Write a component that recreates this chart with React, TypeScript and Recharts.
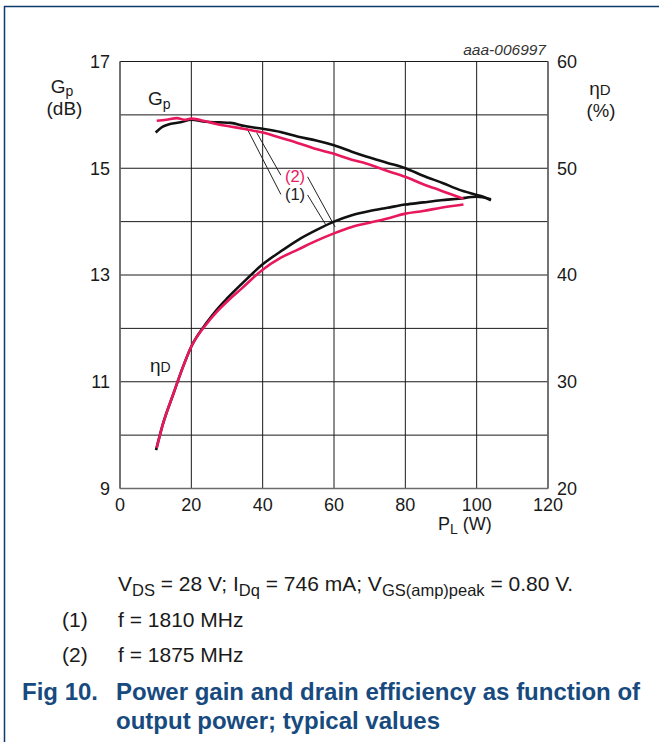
import React from 'react';
import { LineChart, Line, XAxis, YAxis, CartesianGrid, ReferenceLine, ReferenceDot } from 'recharts';

// Power gain Gp (dB) vs PL (W)
const gp1810 = [
  { x: 10, y: 15.67 }, { x: 12, y: 15.78 }, { x: 14, y: 15.83 }, { x: 17, y: 15.86 },
  { x: 20, y: 15.91 }, { x: 24, y: 15.87 }, { x: 28, y: 15.86 }, { x: 31, y: 15.85 },
  { x: 35, y: 15.79 }, { x: 40, y: 15.74 }, { x: 45, y: 15.68 }, { x: 50, y: 15.59 },
  { x: 55, y: 15.52 }, { x: 60, y: 15.43 }, { x: 65, y: 15.31 }, { x: 69, y: 15.22 },
  { x: 75, y: 15.1 }, { x: 80, y: 15.0 }, { x: 85, y: 14.86 }, { x: 90.6, y: 14.72 },
  { x: 95, y: 14.6 }, { x: 100, y: 14.5 }, { x: 102, y: 14.46 }, { x: 104, y: 14.4 },
];
const gp1875 = [
  { x: 10.3, y: 15.89 }, { x: 13, y: 15.91 }, { x: 16, y: 15.94 }, { x: 18, y: 15.91 },
  { x: 20, y: 15.93 }, { x: 24, y: 15.88 }, { x: 27, y: 15.83 }, { x: 32, y: 15.77 },
  { x: 36, y: 15.72 }, { x: 40, y: 15.67 }, { x: 45, y: 15.57 }, { x: 50, y: 15.47 },
  { x: 55, y: 15.36 }, { x: 60, y: 15.27 }, { x: 65, y: 15.16 }, { x: 69, y: 15.09 },
  { x: 75, y: 14.95 }, { x: 80, y: 14.84 }, { x: 85, y: 14.7 }, { x: 88, y: 14.63 },
  { x: 92, y: 14.53 }, { x: 96.3, y: 14.43 },
];
// Drain efficiency ηD (%) vs PL (W)
const eta1810 = [
  { x: 10.1, y: 23.6 }, { x: 12, y: 26.0 }, { x: 15, y: 28.9 }, { x: 17.5, y: 31.25 },
  { x: 20, y: 33.3 }, { x: 24, y: 35.4 }, { x: 27, y: 36.7 }, { x: 30, y: 37.8 },
  { x: 33.6, y: 39.0 }, { x: 40, y: 41.0 }, { x: 45, y: 42.2 }, { x: 50, y: 43.3 },
  { x: 55, y: 44.2 }, { x: 60, y: 45.0 }, { x: 65, y: 45.6 }, { x: 70, y: 46.0 },
  { x: 75, y: 46.3 }, { x: 80, y: 46.6 }, { x: 85, y: 46.8 }, { x: 90, y: 47.0 },
  { x: 95, y: 47.15 }, { x: 100, y: 47.33 }, { x: 104, y: 47.1 },
];
const eta1875 = [
  { x: 10.3, y: 23.8 }, { x: 12, y: 26.0 }, { x: 15, y: 28.9 }, { x: 17.5, y: 31.25 },
  { x: 20, y: 33.3 }, { x: 24, y: 35.3 }, { x: 27, y: 36.5 }, { x: 30, y: 37.5 },
  { x: 34, y: 38.7 }, { x: 40, y: 40.5 }, { x: 45, y: 41.6 }, { x: 50, y: 42.4 },
  { x: 55, y: 43.2 }, { x: 60, y: 43.9 }, { x: 65, y: 44.5 }, { x: 70, y: 44.9 },
  { x: 75, y: 45.3 }, { x: 80, y: 45.75 }, { x: 85, y: 46.0 }, { x: 90, y: 46.3 },
  { x: 96.3, y: 46.6 },
];

const xTicks = [0, 20, 40, 60, 80, 100, 120];
const gpTicks = [9, 10, 11, 12, 13, 14, 15, 16, 17];
const etaTicks = [20, 25, 30, 35, 40, 45, 50, 55, 60];

// leader lines (data coords on Gp axis)
const leaders = [
  { from: { x: 35.5, y: 15.76 }, to: { x: 45.1, y: 14.51 } },
  { from: { x: 38.3, y: 15.67 }, to: { x: 45.1, y: 14.87 } },
  { from: { x: 52.6, y: 14.84 }, to: { x: 60.3, y: 13.9 } },
  { from: { x: 52.6, y: 14.5 }, to: { x: 57.7, y: 13.94 } },
];

const FONT = '"Liberation Sans", Arial, sans-serif';
const BLACK = '#111111';
const PINK = '#e8185c';
const BLUE = '#174a7e';
const TXT = '#1a1a1a';

const tickStyle = { fill: TXT, fontSize: 18, fontFamily: FONT };

export default function App() {
  return (
    <div style={{ position: 'absolute', left: 0, top: 0, width: 659, height: 742, background: '#fff', fontFamily: FONT }}>
      <LineChart width={659} height={742} margin={{ top: 61.5, right: 51, left: 60, bottom: 213.5 }}>
        <CartesianGrid yAxisId="left" stroke="#1a1a1a" strokeWidth={1} horizontal vertical />
        <XAxis
          dataKey="x"
          type="number"
          domain={[0, 120]}
          ticks={xTicks}
          allowDataOverflow
          height={40}
          tickSize={0}
          tickMargin={10}
          tick={tickStyle}
          axisLine={{ stroke: '#6b6b6b', strokeWidth: 1.5 }}
          tickLine={false}
        />
        <YAxis
          yAxisId="left"
          orientation="left"
          type="number"
          domain={[9, 17]}
          ticks={gpTicks}
          interval={0}
          width={60}
          tickSize={0}
          tickMargin={10}
          tick={tickStyle}
          tickFormatter={(v: number) => (v % 2 === 1 ? String(v) : '')}
          axisLine={{ stroke: '#6b6b6b', strokeWidth: 1.5 }}
          tickLine={false}
        />
        <YAxis
          yAxisId="right"
          orientation="right"
          type="number"
          domain={[20, 60]}
          ticks={etaTicks}
          interval={0}
          width={60}
          tickSize={0}
          tickMargin={9}
          tick={{ ...tickStyle, textAnchor: 'start' }}
          tickFormatter={(v: number) => (v % 10 === 0 ? String(v) : '')}
          axisLine={{ stroke: '#6b6b6b', strokeWidth: 1.5 }}
          tickLine={false}
        />
        {leaders.map((l, i) => (
          <ReferenceLine
            key={i}
            yAxisId="left"
            segment={[l.from, l.to]}
            stroke="#222"
            strokeWidth={1}
          />
        ))}
        <Line yAxisId="left" data={gp1810} dataKey="y" type="monotone" stroke={BLACK} strokeWidth={2.6} dot={false} isAnimationActive={false} />
        <Line yAxisId="right" data={eta1810} dataKey="y" type="monotone" stroke={BLACK} strokeWidth={2.6} dot={false} isAnimationActive={false} />
        <Line yAxisId="left" data={gp1875} dataKey="y" type="monotone" stroke={PINK} strokeWidth={2.6} dot={false} isAnimationActive={false} />
        <Line yAxisId="right" data={eta1875} dataKey="y" type="monotone" stroke={PINK} strokeWidth={2.6} dot={false} isAnimationActive={false} />
        <ReferenceDot
          yAxisId="left"
          x={49.06}
          y={14.86}
          r={0}
          shape={(p: any) => (
            <text x={p.cx} y={p.cy + 6} textAnchor="middle" fill={PINK} fontSize={16.5} fontFamily={FONT}>(2)</text>
          )}
        />
        <ReferenceDot
          yAxisId="left"
          x={49.06}
          y={14.51}
          r={0}
          shape={(p: any) => (
            <text x={p.cx} y={p.cy + 6} textAnchor="middle" fill="#222" fontSize={16.5} fontFamily={FONT}>(1)</text>
          )}
        />
        <ReferenceDot
          yAxisId="left"
          x={11.2}
          y={16.3}
          r={0}
          shape={(p: any) => (
            <text x={p.cx - 12} y={p.cy + 6} fill={TXT} fontSize={19} fontFamily={FONT}>
              G<tspan fontSize={14} dy={4}>p</tspan>
            </text>
          )}
        />
        <ReferenceDot
          yAxisId="left"
          x={11.5}
          y={11.28}
          r={0}
          shape={(p: any) => (
            <text x={p.cx - 11} y={p.cy + 5} fill={TXT} fontSize={19} fontFamily={FONT}>
              η<tspan fontSize={14}>D</tspan>
            </text>
          )}
        />
      </LineChart>
      <svg width={659} height={742} style={{ position: 'absolute', left: 0, top: 0, pointerEvents: 'none' }}>
        <line x1={4.5} y1={6} x2={4.5} y2={742} stroke="#0d3b6e" strokeWidth={1.5} />
        <line x1={4} y1={6.5} x2={659} y2={6.5} stroke="#0d3b6e" strokeWidth={1.5} />
        <text x={546} y={55} textAnchor="end" fontSize={15.5} fontStyle="italic" fill="#333" fontFamily={FONT}>aaa-006997</text>
        <text x={62} y={93} textAnchor="middle" fontSize={19} fill={TXT} fontFamily={FONT}>
          G<tspan fontSize={14} dy={3}>p</tspan>
        </text>
        <text x={64.5} y={115} textAnchor="middle" fontSize={19} fill={TXT} fontFamily={FONT}>(dB)</text>
        <text x={600} y={95} textAnchor="middle" fontSize={19} fill={TXT} fontFamily={FONT}>
          η<tspan fontSize={15}>D</tspan>
        </text>
        <text x={601} y={117} textAnchor="middle" fontSize={18.5} fill={TXT} fontFamily={FONT}>(%)</text>
        <text x={438} y={530} fontSize={18} fill={TXT} fontFamily={FONT}>
          P<tspan fontSize={14} dy={4}>L</tspan><tspan dy={-4}> (W)</tspan>
        </text>
        <text x={118} y={590.5} fontSize={21} fill={TXT} fontFamily={FONT}>
          V<tspan fontSize={16.5} dy={5}>DS</tspan><tspan dy={-5}> = 28 V; I</tspan>
          <tspan fontSize={16.5} dy={5}>Dq</tspan><tspan dy={-5}> = 746 mA; V</tspan>
          <tspan fontSize={16.5} dy={5}>GS(amp)peak</tspan><tspan dy={-5}> = 0.80 V.</tspan>
        </text>
        <text x={62} y={626.5} fontSize={21} fill={TXT} fontFamily={FONT}>(1)</text>
        <text x={118} y={626.5} fontSize={21} fill={TXT} fontFamily={FONT}>f = 1810 MHz</text>
        <text x={62} y={661.5} fontSize={21} fill={TXT} fontFamily={FONT}>(2)</text>
        <text x={118} y={661.5} fontSize={21} fill={TXT} fontFamily={FONT}>f = 1875 MHz</text>
        <text x={22} y={699.5} fontSize={24} fontWeight="bold" fill={BLUE} fontFamily={FONT}>Fig 10.</text>
        <text x={116} y={699.5} fontSize={24} fontWeight="bold" fill={BLUE} fontFamily={FONT}>Power gain and drain efficiency as function of</text>
        <text x={116} y={728.5} fontSize={24} fontWeight="bold" fill={BLUE} fontFamily={FONT}>output power; typical values</text>
      </svg>
    </div>
  );
}
